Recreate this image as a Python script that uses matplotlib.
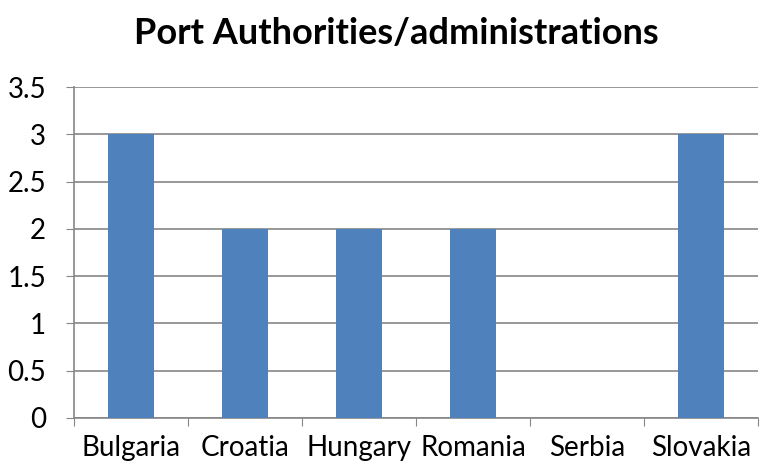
import matplotlib
matplotlib.use("Agg")
import matplotlib.pyplot as plt
import numpy as np

countries = ["Bulgaria", "Croatia", "Hungary", "Romania", "Serbia", "Slovakia"]
authorities = [3, 2, 2, 2, 0, 3]
y_ticks = [0, 0.5, 1, 1.5, 2, 2.5, 3, 3.5]

plt.rcParams["font.family"] = ["Lato", "DejaVu Sans"]

fig = plt.figure(figsize=(7.62, 4.66), dpi=100)
ax = fig.add_axes([74 / 762, 48 / 466, 684 / 762, 331 / 466])

x = np.arange(len(countries))
ax.bar(x, authorities, width=0.4, color="#4f81bd", zorder=3)

ax.set_xlim(-0.5, len(countries) - 0.5)
ax.set_ylim(0, 3.5)
ax.set_yticks(y_ticks)
ax.set_yticklabels([f"{v:g}" for v in y_ticks], fontsize=20)
ax.yaxis.grid(True, color="#868686", linewidth=1.2, zorder=0)

# category boundary ticks on the x axis, labels centred between them
ax.set_xticks(np.arange(len(countries) + 1) - 0.5)
ax.set_xticklabels([])
ax.set_xticks(x, minor=True)
ax.set_xticklabels(countries, minor=True, fontsize=20)
ax.tick_params(axis="x", which="minor", length=0, pad=12)
ax.tick_params(axis="x", which="major", length=6, color="#868686", direction="out")
ax.tick_params(axis="y", length=6, color="#868686", pad=14)

for side in ("top", "right"):
    ax.spines[side].set_visible(False)
for side in ("left", "bottom"):
    ax.spines[side].set_color("#868686")
    ax.spines[side].set_linewidth(1.2)

fig.suptitle("Port Authorities/administrations", x=396 / 762, y=1 - 33 / 466,
             va="center", fontsize=26, fontweight="bold")

fig.savefig("out.png", dpi=100)
